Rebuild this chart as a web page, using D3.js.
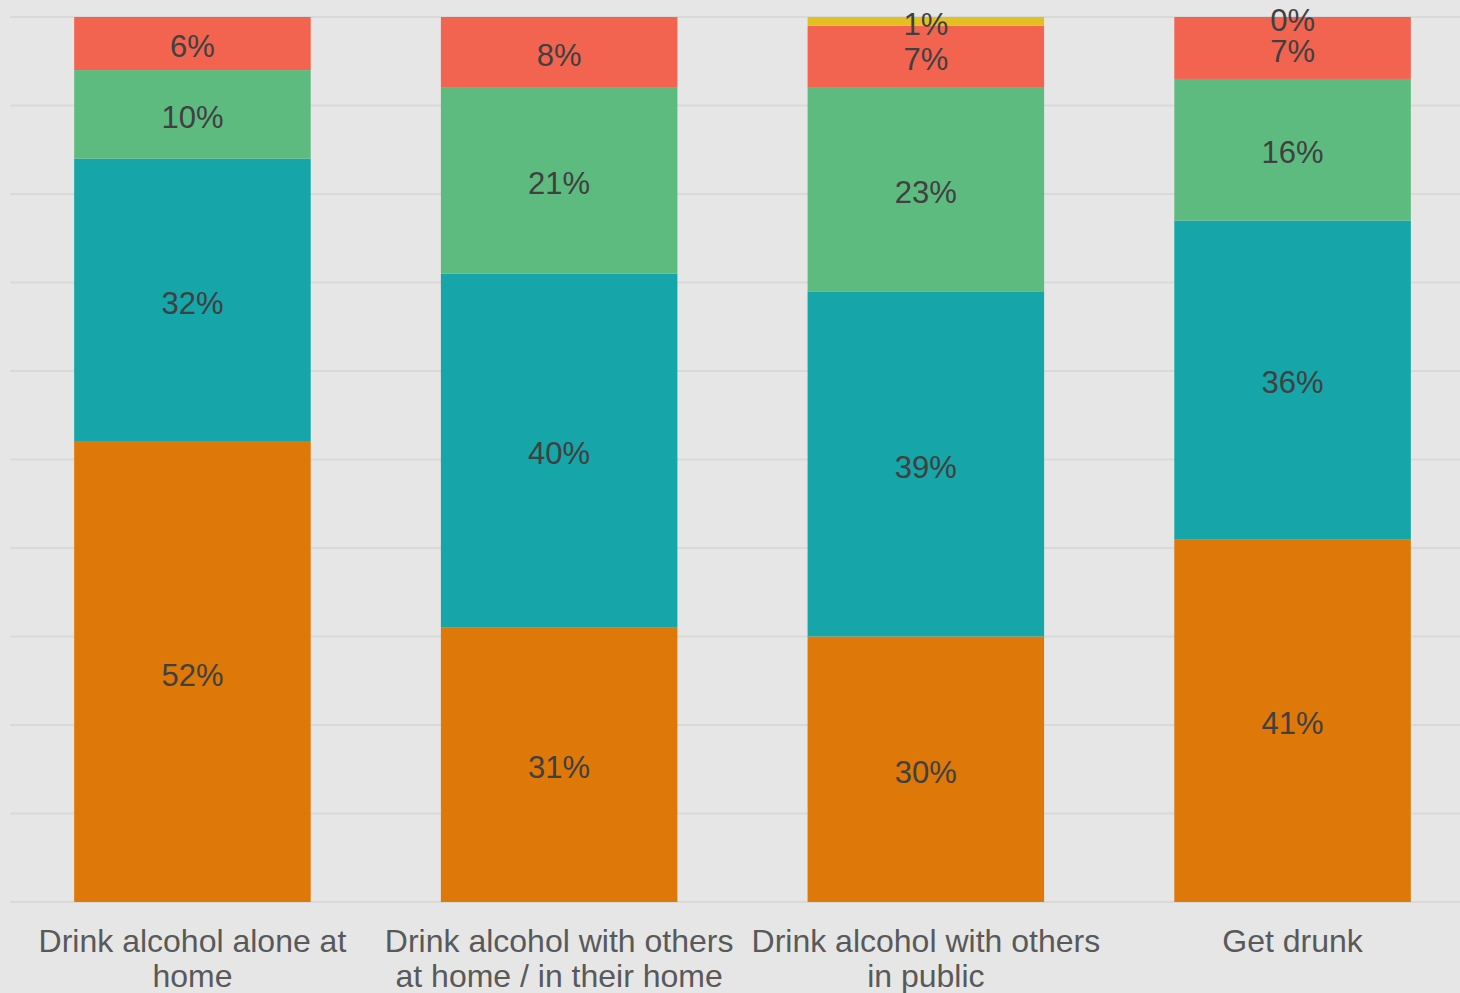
<!DOCTYPE html>
<html>
<head>
<meta charset="utf-8">
<script src="https://cdn.jsdelivr.net/npm/d3@7"></script>
<style>
  html, body { margin: 0; padding: 0; background: #e6e6e6; }
  svg { display: block; }
</style>
</head>
<body>
<svg id="chart" width="1460" height="993"></svg>
<script>
// ---- data ----
const categories = [
  ["Drink alcohol alone at", "home"],
  ["Drink alcohol with others", "at home / in their home"],
  ["Drink alcohol with others", "in public"],
  ["Get drunk"]
];
const seriesNames = ["s1", "s2", "s3", "s4", "s5"];
const s1 = [52, 31, 30, 41];   // orange (bottom)
const s2 = [32, 40, 39, 36];   // teal
const s3 = [10, 21, 23, 16];   // green
const s4 = [6, 8, 7, 7];       // red
const s5 = [0, 0, 1, 0];       // yellow (top)
const s5Labelled = [false, false, true, true];
const colors = ["#de7809", "#16a5a8", "#5dbb80", "#f26450", "#e3c021"];
const gridTicks = [0, 10, 20, 30, 40, 50, 60, 70, 80, 90, 100];

// ---- layout ----
const svg = d3.select("#chart");
const W = 1460, H = 993;
svg.append("rect").attr("width", W).attr("height", H).attr("fill", "#e6e6e6");

const y = d3.scaleLinear().domain([0, 100]).range([902, 17]);
const x = d3.scaleBand().domain(d3.range(categories.length))
  .range([10, 1475]).paddingInner(0.355).paddingOuter(0.175);

// gridlines
svg.append("g").selectAll("line").data(gridTicks).join("line")
  .attr("x1", 10).attr("x2", W)
  .attr("y1", d => y(d)).attr("y2", d => y(d))
  .attr("stroke", "#d9d9d9").attr("stroke-width", 2);

// stacks
const rows = categories.map((c, i) => ({i, s1: s1[i], s2: s2[i], s3: s3[i], s4: s4[i], s5: s5[i]}));
const stack = d3.stack().keys(seriesNames)(rows);

const layers = svg.append("g").selectAll("g").data(stack).join("g")
  .attr("fill", (d, k) => colors[k]);
layers.selectAll("rect").data(d => d).join("rect")
  .attr("x", d => x(d.data.i))
  .attr("width", x.bandwidth())
  .attr("y", d => y(d[1]))
  .attr("height", d => y(d[0]) - y(d[1]));

// value labels
const labelG = svg.append("g")
  .attr("font-family", "'Liberation Sans', Arial, sans-serif")
  .attr("font-size", 31).attr("fill", "#404040").attr("text-anchor", "middle");
stack.forEach((layer, k) => {
  layer.forEach(d => {
    const v = d[1] - d[0];
    if (k === 4 && !s5Labelled[d.data.i]) return;
    labelG.append("text")
      .attr("x", x(d.data.i) + x.bandwidth() / 2)
      .attr("y", y((d[0] + d[1]) / 2))
      .attr("dy", "0.44em")
      .text(Math.round(v) + "%");
  });
});

// category axis labels
const axisG = svg.append("g")
  .attr("font-family", "'Liberation Sans', Arial, sans-serif")
  .attr("font-size", 32).attr("fill", "#595959").attr("text-anchor", "middle");
categories.forEach((lines, i) => {
  const t = axisG.append("text")
    .attr("x", x(i) + x.bandwidth() / 2)
    .attr("y", 952);
  lines.forEach((ln, j) => {
    t.append("tspan").attr("x", x(i) + x.bandwidth() / 2)
      .attr("dy", j === 0 ? 0 : 35).text(ln);
  });
});
</script>
</body>
</html>
